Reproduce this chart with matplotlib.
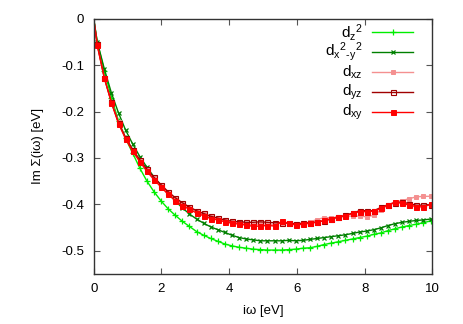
import matplotlib
matplotlib.use("Agg")
import matplotlib.pyplot as plt
from matplotlib.lines import Line2D

plt.rcParams['font.family'] = ['Liberation Sans', 'DejaVu Sans']
plt.rcParams['mathtext.fontset'] = 'custom'
plt.rcParams['mathtext.rm'] = 'Liberation Sans'
plt.rcParams['mathtext.it'] = 'Liberation Sans'
plt.rcParams['mathtext.bf'] = 'Liberation Sans:bold'

# Matsubara frequencies (eV), with the origin point
freq = [0.0, 0.105, 0.314, 0.524, 0.733, 0.942, 1.152, 1.361, 1.571, 1.780, 1.990,
        2.199, 2.409, 2.618, 2.827, 3.037, 3.246, 3.456, 3.665, 3.875, 4.084,
        4.294, 4.503, 4.712, 4.922, 5.131, 5.341, 5.550, 5.760, 5.969, 6.178,
        6.388, 6.597, 6.807, 7.016, 7.226, 7.435, 7.645, 7.854, 8.063, 8.273,
        8.482, 8.692, 8.901, 9.111, 9.320, 9.530, 9.739, 9.948]

d_z2 = [0.0, -0.050, -0.112, -0.170, -0.220, -0.258, -0.290, -0.322, -0.350, -0.373, -0.393,
        -0.410, -0.424, -0.437, -0.448, -0.459, -0.467, -0.474, -0.480, -0.486, -0.490,
        -0.493, -0.495, -0.497, -0.498, -0.499, -0.499, -0.499, -0.498, -0.497, -0.495,
        -0.494, -0.491, -0.487, -0.484, -0.481, -0.478, -0.475, -0.472, -0.469, -0.465,
        -0.462, -0.457, -0.453, -0.449, -0.446, -0.443, -0.440, -0.436]

d_x2y2 = [0.0, -0.049, -0.108, -0.160, -0.203, -0.240, -0.270, -0.297, -0.320, -0.341, -0.360,
          -0.377, -0.393, -0.408, -0.421, -0.432, -0.441, -0.449, -0.455, -0.461, -0.467,
          -0.472, -0.475, -0.477, -0.479, -0.479, -0.479, -0.479, -0.478, -0.479, -0.478,
          -0.476, -0.474, -0.472, -0.470, -0.468, -0.466, -0.463, -0.460, -0.458, -0.455,
          -0.451, -0.446, -0.442, -0.439, -0.437, -0.435, -0.434, -0.432]

d_xz = [0.0, -0.056, -0.127, -0.180, -0.223, -0.257, -0.283, -0.306, -0.326, -0.344, -0.360,
        -0.376, -0.389, -0.400, -0.409, -0.416, -0.422, -0.428, -0.432, -0.436, -0.439,
        -0.441, -0.443, -0.444, -0.442, -0.443, -0.444, -0.440, -0.441, -0.443, -0.442,
        -0.438, -0.433, -0.429, -0.429, -0.428, -0.427, -0.425, -0.426, -0.427, -0.424,
        -0.412, -0.402, -0.395, -0.392, -0.388, -0.384, -0.383, -0.383]

d_yz = [0.0, -0.055, -0.127, -0.180, -0.224, -0.256, -0.282, -0.304, -0.324, -0.342, -0.358,
        -0.373, -0.386, -0.397, -0.406, -0.414, -0.420, -0.426, -0.430, -0.434, -0.437,
        -0.438, -0.439, -0.439, -0.438, -0.439, -0.440, -0.440, -0.441, -0.442, -0.441,
        -0.440, -0.438, -0.436, -0.432, -0.428, -0.424, -0.419, -0.414, -0.414, -0.414,
        -0.407, -0.401, -0.397, -0.395, -0.399, -0.402, -0.402, -0.401]

d_xy = [0.0, -0.057, -0.128, -0.181, -0.226, -0.259, -0.286, -0.308, -0.329, -0.347, -0.363,
        -0.379, -0.392, -0.403, -0.411, -0.419, -0.425, -0.431, -0.434, -0.438, -0.441,
        -0.443, -0.445, -0.448, -0.447, -0.446, -0.447, -0.437, -0.441, -0.445, -0.443,
        -0.441, -0.439, -0.435, -0.431, -0.427, -0.425, -0.420, -0.416, -0.416, -0.415,
        -0.409, -0.401, -0.396, -0.398, -0.402, -0.405, -0.406, -0.400]

labels = [r'd$_z$$^2$', 'd$_x$$^2$$_{\u2010y}$$^2$', r'd$_{xz}$', r'd$_{yz}$', r'd$_{xy}$']
x_ticks = [0, 2, 4, 6, 8, 10]
y_ticks = [0, -0.1, -0.2, -0.3, -0.4, -0.5]
y_ticklabels = ['0', '-0.1', '-0.2', '-0.3', '-0.4', '-0.5']

styles = [
    dict(color='#00ee00', marker='+', ms=4, mew=0.9, mfc='#00ee00'),
    dict(color='#008000', marker='x', ms=3.2, mew=0.9, mfc='#008000'),
    dict(color='#f49090', marker='s', ms=3.4, mew=0.7, mfc='#f49090'),
    dict(color='#a00000', marker='s', ms=3.6, mew=0.8, mfc='none'),
    dict(color='#ff0000', marker='s', ms=3.6, mew=0.7, mfc='#ff0000'),
]
series = [d_z2, d_x2y2, d_xz, d_yz, d_xy]

fig = plt.figure(figsize=(4.63, 3.24), dpi=100)
ax = fig.add_axes([0.2024, 0.1553, 0.9337 - 0.2024, 0.9414 - 0.1553])

for ys, st in zip(series, styles):
    ax.plot(freq, ys, lw=1.0, markevery=slice(1, None), **st)

ax.set_xlim(0, 10)
ax.set_ylim(-0.55, 0)
ax.set_xticks(x_ticks)
ax.set_xticklabels([str(t) for t in x_ticks])
ax.set_yticks(y_ticks)
ax.set_yticklabels(y_ticklabels)
ax.tick_params(direction='in', length=4, width=0.8, top=True, right=True,
               labelsize=9.5, pad=7, color='#555555')
for sp in ax.spines.values():
    sp.set_linewidth(1.0)
    sp.set_color('#333333')

ax.set_xlabel('iω [eV]', fontsize=9.5, labelpad=7)
ax.set_ylabel('Im Σ(iω) [eV]', fontsize=9.5, labelpad=12)

# gnuplot-style key: right-aligned text, then line sample
x_text_px = 363
x_l0, x_l1, x_m = 372, 413, 393
rows_px = [32, 52, 72, 92, 112]
W, H = 463, 324
for lab, st, ypx in zip(labels, styles, rows_px):
    yf = 1 - ypx / H
    fig.text(x_text_px / W, yf, lab, ha='right', va='center', fontsize=11)
    fig.add_artist(Line2D([x_l0 / W, x_l1 / W], [yf, yf], transform=fig.transFigure,
                          lw=1.0, color=st['color']))
    fig.add_artist(Line2D([x_m / W], [yf], transform=fig.transFigure, lw=0,
                          marker=st['marker'], ms=st['ms'], mew=st['mew'],
                          color=st['color'], mfc=st['mfc']))

fig.savefig('out.png', dpi=100)
